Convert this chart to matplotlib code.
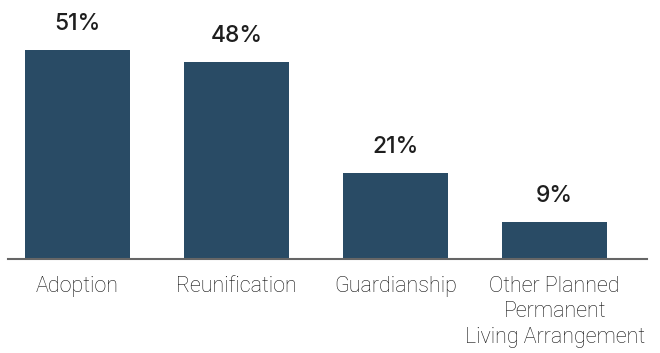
import matplotlib
matplotlib.use("Agg")
import matplotlib.pyplot as plt

categories = ["Adoption", "Reunification", "Guardianship",
              "Other Planned\nPermanent\nLiving Arrangement"]
values = [51, 48, 21, 9]
value_labels = ["51%", "48%", "21%", "9%"]

bar_color = "#294b65"
text_color = "#1e1e1e"

fig = plt.figure(figsize=(6.6, 3.53), dpi=100)
ax = fig.add_axes([8 / 660, 1 - 259 / 353, 639 / 660, 259 / 353])

x = list(range(len(categories)))
bars = ax.bar(x, values, width=0.66, color=bar_color, zorder=2)

ax.set_xlim(-0.437, 3.58)
ax.set_ylim(0, 63.2)

for b, lab in zip(bars, value_labels):
    ax.annotate(lab, (b.get_x() + b.get_width() / 2, b.get_height()),
                xytext=(0, 14.4), textcoords="offset points",
                ha="center", va="baseline", fontsize=16.5,
                family="Inter", fontweight="medium", color=text_color)

ax.set_xticks(x)
ax.set_xticklabels(categories, family="Roboto", fontweight="light",
                   fontsize=15.5, color="#111111", linespacing=1.3)
ax.tick_params(axis="x", length=0, pad=12)
ax.set_yticks([])

for side in ["top", "right", "left"]:
    ax.spines[side].set_visible(False)
ax.spines["bottom"].set_color("#666666")
ax.spines["bottom"].set_linewidth(1.5)

fig.savefig("out.png", dpi=100)
